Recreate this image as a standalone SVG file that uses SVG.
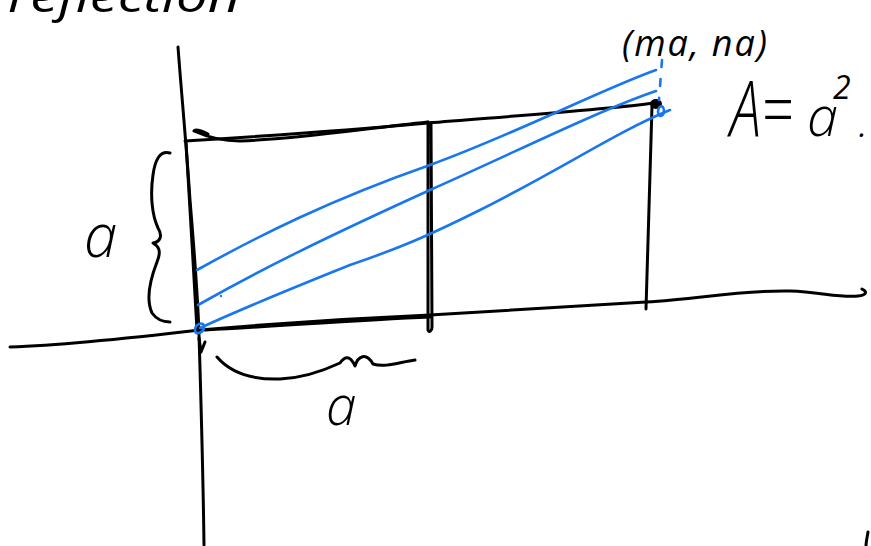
<svg xmlns="http://www.w3.org/2000/svg" width="871" height="546" viewBox="0 0 871 546">
<style>
.k{fill:none;stroke:#000;stroke-width:3;stroke-linecap:round;stroke-linejoin:round}
.b{fill:none;stroke:#1877f0;stroke-width:2.6;stroke-linecap:round;stroke-linejoin:round}
.t{font-family:"Open Sans","Noto Sans","Liberation Sans",sans-serif;font-style:italic;font-weight:300;fill:#000}
.m{font-weight:400}
</style>
<rect width="871" height="546" fill="#fff"/>
<g id="title"><text class="t m" x="8" y="12" font-size="46" textLength="232" lengthAdjust="spacingAndGlyphs">reflection</text></g>
<g id="axes">
<path class="k" d="M178,47 C182,100 186,140 190,200 C195,260 198,300 199,335 C201,400 203,470 204,545"/>
<path class="k" d="M199,338 L201,352 L205,342"/>
<path class="k" d="M10,347 C70,345 140,337 200,330 C280,323 360,318 430,315 C520,309 600,305 646,302 C700,299 740,290 790,291 C820,292 840,298 858,296 C866,295 868,292 862,289"/>
<path class="k" d="M868,532 C867,538 866,542 866,546"/>
</g>
<g id="rectangle">
<path class="k" d="M186,142 C189,200 194,270 197,330"/>
<path class="k" d="M205,330 C280,326 360,320 430,317"/>
<path class="k" d="M185,141 C250,137 340,131 428,123 C500,117 600,110 655,103"/>
<path class="k" d="M208,134 C200,130 195,129 194,131 C205,136 220,141 240,141 C300,139 360,129 428,122"/>
<path class="k" d="M428,122 C428,190 428,260 428,330 C429,333 432,331 432,327 C432,260 431,190 431,123"/>
<path class="k" d="M652,106 C650,180 648,250 646,309"/>
<ellipse cx="656" cy="104" rx="6" ry="5" fill="#000"/>
</g>
<g id="diagonals">
<path class="b" d="M197,270 C260,235 330,200 430,165 C520,132 600,90 656,70"/>
<path class="b" d="M198,305 C260,270 320,240 430,190 C520,150 600,110 656,91"/>
<path class="b" d="M200,328 C250,305 300,285 350,265 C400,248 430,235 480,210 C560,170 620,130 670,110"/>
<path class="b" d="M662,60 L659,100" stroke-dasharray="7,12"/>
<path class="b" d="M196,333 C193,328 198,322 203,324 C206,328 202,334 196,333"/>
<path class="b" d="M660,116 C656,112 659,104 663,107 C665,111 664,116 660,116"/>
<circle cx="221" cy="296" r="1.2" fill="#1877f0"/>
</g>
<g id="brace-height">
<path class="k" d="M170,153 C160,150 155,160 153,175 C150,195 152,215 158,228 C163,236 160,242 153,243 C158,246 162,250 157,262 C150,280 146,300 152,313 C157,320 163,322 170,322"/>
<text class="t" x="84" y="257" font-size="60">a</text>
</g>
<g id="brace-width">
<path class="k" d="M217,357 C230,372 250,380 280,379 C305,378 325,370 340,363 C345,356 350,355 355,366 C358,356 366,352 373,364 C385,368 400,362 415,360"/>
<text class="t" x="326" y="425" font-size="55">a</text>
</g>
<g id="point-label"><text class="t m" x="622" y="56" font-size="36" textLength="145" lengthAdjust="spacing">(ma, na)</text></g>
<g id="area">
<text class="t" y="137"><tspan x="730" font-size="78" textLength="63" lengthAdjust="spacingAndGlyphs">A=</tspan><tspan x="807" y="136" font-size="56">a</tspan><tspan x="833" y="99" font-size="32" class="m">2</tspan><tspan x="859" y="137" font-size="30" class="m">.</tspan></text>
</g>
</svg>
